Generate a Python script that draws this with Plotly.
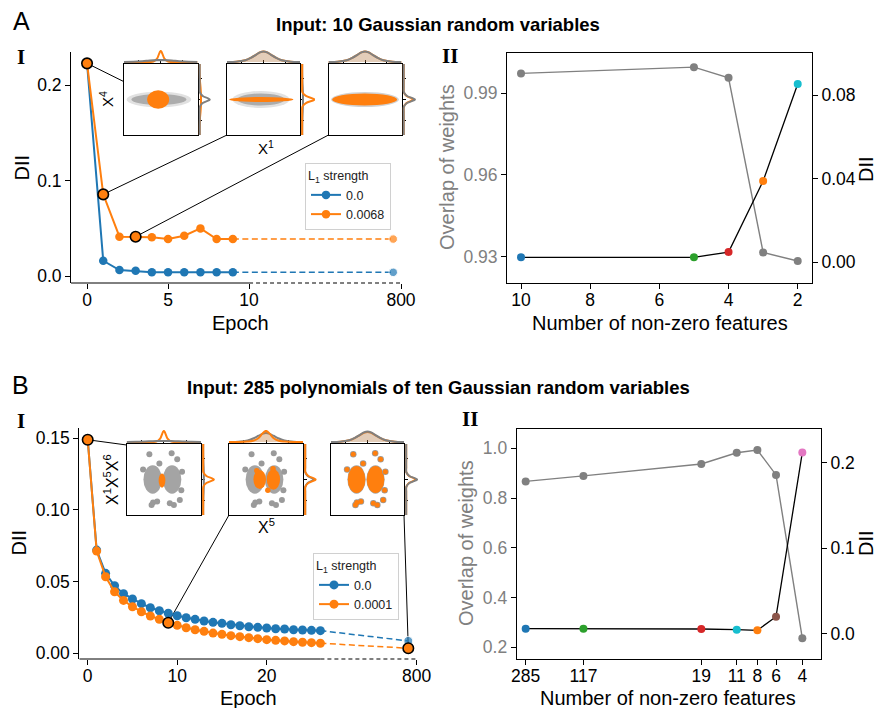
import plotly.graph_objects as go

W, H = 876, 708
FONT = "Liberation Sans"
SERIF = "Liberation Serif"
BLUE, ORANGE, GRAY = "#1f77b4", "#ff7f0e", "#808080"
GREEN, RED, CYAN, BROWN, PINK = "#2ca02c", "#d62728", "#17becf", "#8c564b", "#e377c2"

# ---------------- data ----------------
# Panel A-I : DII vs epoch (10 Gaussian variables)
a_epochs = [0, 1, 2, 3, 4, 5, 6, 7, 8, 9]
a_dii_l0 = [0.2227, 0.0160, 0.0063, 0.0055, 0.0039, 0.0039, 0.0039, 0.0039, 0.0039, 0.0039]
a_dii_l1 = [0.2227, 0.0855, 0.0412, 0.0412, 0.0405, 0.0387, 0.0422, 0.0499, 0.0387, 0.0387]
a_final_l0 = 0.0039
a_final_l1 = 0.0387
a_highlight = [0, 1, 3]          # epochs shown in insets
a_strengths = ["0.0", "0.0068"]

# Panel A-II
a2_features = [10, 5, 4, 3, 2]
a2_overlap = [0.9973, 0.9996, 0.9957, 0.9315, 0.9284]
a2_dii = [0.0024, 0.0024, 0.0049, 0.0389, 0.0853]
a2_colors = [BLUE, GREEN, RED, ORANGE, CYAN]

# Panel B-I : DII vs epoch (285 polynomials)
b_epochs = list(range(27))
b_dii_l0 = [0.1494, 0.0720, 0.0558, 0.0471, 0.0416, 0.0379, 0.0346, 0.0318, 0.0297, 0.0279,
            0.0262, 0.0248, 0.0237, 0.0225, 0.0216, 0.0209, 0.0199, 0.0192, 0.0185, 0.0181,
            0.0176, 0.0171, 0.0169, 0.0164, 0.0162, 0.0160, 0.0158]
b_dii_l1 = [0.1490, 0.0713, 0.0534, 0.0429, 0.0369, 0.0325, 0.0290, 0.0260, 0.0237, 0.0213,
            0.0195, 0.0178, 0.0164, 0.0153, 0.0141, 0.0132, 0.0123, 0.0116, 0.0109, 0.0102,
            0.0095, 0.0090, 0.0086, 0.0081, 0.0077, 0.0074, 0.0070]
b_final_l0 = 0.0086
b_final_l1 = 0.0035
b_highlight = [0, 9]             # plus final epoch
b_strengths = ["0.0", "0.0001"]

# Panel B-II
b2_features = [285, 117, 19, 11, 8, 6, 4]
b2_overlap = [0.867, 0.889, 0.937, 0.982, 0.993, 0.893, 0.236]
b2_dii = [0.0062, 0.0062, 0.0058, 0.0050, 0.0043, 0.0202, 0.212]
b2_colors = [BLUE, GREEN, RED, CYAN, ORANGE, BROWN, PINK]

# inset marginal densities (relative heights on a normalised grid)
mg_grid = [-1, -0.75, -0.5, -0.35, -0.2, -0.1, 0, 0.1, 0.2, 0.35, 0.5, 0.75, 1]
kde_broad_low = [0, 0.02, 0.07, 0.11, 0.15, 0.17, 0.18, 0.17, 0.15, 0.11, 0.07, 0.02, 0]
kde_spike = [0, 0, 0, 0, 0.02, 0.3, 1.0, 0.3, 0.02, 0, 0, 0, 0]
kde_gauss = [0, 0.02, 0.15, 0.36, 0.66, 0.86, 0.95, 0.86, 0.66, 0.36, 0.15, 0.02, 0]
kde_gauss_narrow = [0, 0, 0.03, 0.1, 0.35, 0.75, 1.0, 0.75, 0.35, 0.1, 0.03, 0, 0]
kde_flat = [0, 0, 0.03, 0.07, 0.1, 0.11, 0.11, 0.11, 0.1, 0.07, 0.03, 0, 0]

# outlier points of the polynomial scatter (normalised inset coords)
b_out_x = [-0.39, 0.21, 0.36, -0.33, -0.29, -0.18, 0.16, 0.27, 0.43, -0.56, 0.49, 0.47, -0.12]
b_out_y = [0.71, 0.74, 0.57, -0.72, -0.65, -0.62, -0.67, -0.72, -0.58, 0.28, 0.22, -0.3, 0.45]
b2_orange_x = [0.19, -0.25, 0.05]
b2_orange_y = [0.3, 0.25, -0.3]

# ---------------- layout geometry (pixels) ----------------
A1_X, A1_Y = (71, 401), (52, 283)
A1_XR, A1_YR = [-0.99, 19.38], [-0.0073, 0.2346]
A_POS800 = 18.9
A2_X, A2_Y = (507, 812), (53, 283)
B1_X, B1_Y = (79.3, 416.7), (428, 659)
B1_XR, B1_YR = [-0.94, 36.76], [-0.004, 0.1572]
B_POS800 = 35.82
B2_X, B2_Y = (516.7, 821), (429, 659)


def xd(a, b):
    return [a / W, b / W]


def yd(top, bot):
    return [1 - bot / H, 1 - top / H]


def to_px(xv, yv, xdom, xr, ydom, yr):
    X = xdom[0] + (xv - xr[0]) / (xr[1] - xr[0]) * (xdom[1] - xdom[0])
    Y = ydom[1] - (yv - yr[0]) / (yr[1] - yr[0]) * (ydom[1] - ydom[0])
    return X, Y


TICKFONT = dict(family=FONT, size=17.5, color="black")
AX = dict(showgrid=False, zeroline=False, ticks="outside", ticklen=5, tickwidth=1,
          tickcolor="black", linecolor="black", linewidth=1, tickfont=TICKFONT,
          automargin=False)
XAX = dict(AX, ticklabelstandoff=-4)

fig = go.Figure()
lay = {}
shapes = []
annots = []

# ---------------- A-I ----------------
lay["xaxis"] = dict(XAX, domain=xd(*A1_X), range=A1_XR, anchor="y", showline=False,
                    tickvals=[0, 5, 10, A1_XR[1]], ticktext=["0", "5", "10", "800"])
lay["yaxis"] = dict(AX, domain=yd(*A1_Y), range=A1_YR, anchor="x", showline=True,
                    tickvals=[0, 0.1, 0.2], ticktext=["0.0", "0.1", "0.2"])
shapes.append(dict(type="line", xref="x", yref="y domain", x0=A1_XR[0], x1=10, y0=0, y1=0,
                   line=dict(color="black", width=1)))
shapes.append(dict(type="line", xref="x", yref="y domain", x0=10, x1=A1_XR[1], y0=0, y1=0,
                   line=dict(color="black", width=1.2, dash="4px,3px")))

for vals, fin, col, name in [(a_dii_l0, a_final_l0, BLUE, a_strengths[0]),
                             (a_dii_l1, a_final_l1, ORANGE, a_strengths[1])]:
    fig.add_trace(go.Scatter(x=[a_epochs[-1], A_POS800], y=[vals[-1], fin], mode="lines+markers",
                             line=dict(color=col, width=1.5, dash="6px,3.5px"),
                             marker=dict(size=[0, 8.5], color=col), showlegend=False,
                             xaxis="x", yaxis="y", hoverinfo="skip"))
    fig.add_trace(go.Scatter(x=a_epochs, y=vals, mode="lines+markers", name=name,
                             line=dict(color=col, width=2), marker=dict(size=8.5, color=col),
                             legend="legend", xaxis="x", yaxis="y"))
fig.add_trace(go.Scatter(x=a_highlight, y=[a_dii_l1[e] for e in a_highlight], mode="markers",
                         marker=dict(size=10.5, color=ORANGE, line=dict(color="black", width=1.6)),
                         showlegend=False, xaxis="x", yaxis="y"))

# ---------------- A-II ----------------
lay["xaxis2"] = dict(XAX, domain=xd(*A2_X), range=[10.405, 1.587], anchor="y2", showline=True,
                     mirror=True, tickvals=[10, 8, 6, 4, 2])
lay["yaxis2"] = dict(AX, domain=yd(*A2_Y), range=[0.9203, 1.0048], anchor="x2", showline=True,
                     mirror=True, tickvals=[0.93, 0.96, 0.99], ticktext=["0.93", "0.96", "0.99"],
                     tickfont=dict(TICKFONT, color=GRAY))
lay["yaxis3"] = dict(AX, range=[-0.0099, 0.1001], anchor="x2", overlaying="y2", side="right",
                     showline=True, tickvals=[0, 0.04, 0.08], ticktext=["0.00", "0.04", "0.08"])
fig.add_trace(go.Scatter(x=a2_features, y=a2_overlap, mode="lines+markers",
                         line=dict(color=GRAY, width=1.4), marker=dict(size=8, color=GRAY),
                         showlegend=False, xaxis="x2", yaxis="y2"))
fig.add_trace(go.Scatter(x=a2_features, y=a2_dii, mode="lines+markers",
                         line=dict(color="black", width=1.3), marker=dict(size=8, color=a2_colors),
                         showlegend=False, xaxis="x2", yaxis="y3"))

# ---------------- B-I ----------------
lay["xaxis3"] = dict(XAX, domain=xd(*B1_X), range=B1_XR, anchor="y4", showline=False,
                     tickvals=[0, 10, 20, B1_XR[1]], ticktext=["0", "10", "20", "800"])
lay["yaxis4"] = dict(AX, domain=yd(*B1_Y), range=B1_YR, anchor="x3", showline=True,
                     tickvals=[0, 0.05, 0.10, 0.15], ticktext=["0.00", "0.05", "0.10", "0.15"])
shapes.append(dict(type="line", xref="x3", yref="y4 domain", x0=B1_XR[0], x1=26, y0=0, y1=0,
                   line=dict(color="black", width=1)))
shapes.append(dict(type="line", xref="x3", yref="y4 domain", x0=26, x1=B1_XR[1], y0=0, y1=0,
                   line=dict(color="black", width=1.2, dash="4px,3px")))
for vals, fin, col, name in [(b_dii_l0, b_final_l0, BLUE, b_strengths[0]),
                             (b_dii_l1, b_final_l1, ORANGE, b_strengths[1])]:
    fig.add_trace(go.Scatter(x=[b_epochs[-1], B_POS800], y=[vals[-1], fin], mode="lines+markers",
                             line=dict(color=col, width=1.5, dash="6px,3.5px"),
                             marker=dict(size=[0, 9], color=col), showlegend=False,
                             xaxis="x3", yaxis="y4", hoverinfo="skip"))
    fig.add_trace(go.Scatter(x=b_epochs, y=vals, mode="lines+markers", name=name,
                             line=dict(color=col, width=2), marker=dict(size=9, color=col),
                             legend="legend2", xaxis="x3", yaxis="y4"))
fig.add_trace(go.Scatter(x=b_highlight + [B_POS800],
                         y=[b_dii_l1[e] for e in b_highlight] + [b_final_l1], mode="markers",
                         marker=dict(size=10.5, color=ORANGE, line=dict(color="black", width=1.6)),
                         showlegend=False, xaxis="x3", yaxis="y4"))

# ---------------- B-II ----------------
lay["xaxis4"] = dict(XAX, domain=xd(*B2_X), type="log", range=[2.515, 0.477], anchor="y5",
                     showline=True, mirror=True, tickvals=b2_features,
                     ticktext=[str(v) for v in b2_features])
lay["yaxis5"] = dict(AX, domain=yd(*B2_Y), range=[0.153, 1.0776], anchor="x4", showline=True,
                     mirror=True, tickvals=[0.2, 0.4, 0.6, 0.8, 1.0],
                     ticktext=["0.2", "0.4", "0.6", "0.8", "1.0"], tickfont=dict(TICKFONT, color=GRAY))
lay["yaxis6"] = dict(AX, range=[-0.0292, 0.2393], anchor="x4", overlaying="y5", side="right",
                     showline=True, tickvals=[0, 0.1, 0.2], ticktext=["0.0", "0.1", "0.2"])
fig.add_trace(go.Scatter(x=b2_features, y=b2_overlap, mode="lines+markers",
                         line=dict(color=GRAY, width=1.4), marker=dict(size=8, color=GRAY),
                         showlegend=False, xaxis="x4", yaxis="y5"))
fig.add_trace(go.Scatter(x=b2_features, y=b2_dii, mode="lines+markers",
                         line=dict(color="black", width=1.3), marker=dict(size=8, color=b2_colors),
                         showlegend=False, xaxis="x4", yaxis="y6"))

# ---------------- insets ----------------
counter = {"x": 5, "y": 7}
GFILL = "rgba(128,128,128,0.22)"
OFILL = "rgba(255,127,14,0.22)"
HID = dict(visible=False, automargin=False)


def add_inset(box, top_curves, right_curves, ellipses, dots, mtop=13, mright=14):
    x0, x1, y0, y1 = box
    nx, ny = counter["x"], counter["y"]
    counter["x"] += 3
    counter["y"] += 3
    inset_ax = dict(range=[-1, 1], showline=True, mirror=True, linecolor="black", linewidth=1,
                    ticks="outside", ticklen=3, tickcolor="black", tickvals=[-0.6, 0, 0.6],
                    showticklabels=False, showgrid=False, zeroline=False, automargin=False)
    lay[f"xaxis{nx}"] = dict(inset_ax, domain=xd(x0, x1), anchor=f"y{ny}", side="top")
    lay[f"yaxis{ny}"] = dict(inset_ax, domain=yd(y0, y1), anchor=f"x{nx}", side="right")
    lay[f"xaxis{nx+1}"] = dict(HID, domain=xd(x0, x1), range=[-1, 1], anchor=f"y{ny+1}")
    lay[f"yaxis{ny+1}"] = dict(HID, domain=yd(y0 - 1 - mtop, y0 - 1), range=[-0.1, 1.08],
                               anchor=f"x{nx+1}")
    lay[f"xaxis{nx+2}"] = dict(HID, domain=xd(x1 + 1, x1 + 1 + mright), range=[-0.1, 1.08],
                               anchor=f"y{ny+2}")
    lay[f"yaxis{ny+2}"] = dict(HID, domain=yd(y0, y1), range=[-1, 1], anchor=f"x{nx+2}")
    for (cx, cy, hw, hh, col, op) in ellipses:
        shapes.append(dict(type="circle", xref=f"x{nx}", yref=f"y{ny}", x0=cx - hw, x1=cx + hw,
                           y0=cy - hh, y1=cy + hh, fillcolor=col, opacity=op,
                           line=dict(width=0), layer="below"))
    for (xs, ys, col, sz) in dots:
        fig.add_trace(go.Scatter(x=xs, y=ys, mode="markers", marker=dict(size=sz, color=col),
                                 showlegend=False, hoverinfo="skip",
                                 xaxis=f"x{nx}", yaxis=f"y{ny}"))
    for (vals, scale, col, fill) in top_curves:
        fig.add_trace(go.Scatter(x=mg_grid, y=[v * scale for v in vals], mode="lines",
                                 line=dict(color=col, width=2, shape="spline"),
                                 fill="tozeroy" if fill else None, fillcolor=fill,
                                 showlegend=False, hoverinfo="skip",
                                 xaxis=f"x{nx+1}", yaxis=f"y{ny+1}"))
    for (vals, scale, col, fill) in right_curves:
        fig.add_trace(go.Scatter(y=mg_grid, x=[v * scale for v in vals], mode="lines",
                                 line=dict(color=col, width=2, shape="spline"),
                                 fill="tozerox" if fill else None, fillcolor=fill,
                                 showlegend=False, hoverinfo="skip",
                                 xaxis=f"x{nx+2}", yaxis=f"y{ny+2}"))


LGRAY = "#9a9a9a"
# A insets
add_inset((124, 197.5, 64, 135),
          [(kde_spike, 1, ORANGE, None), (kde_broad_low, 1, GRAY, GFILL)],
          [(kde_flat, 1, ORANGE, OFILL), (kde_spike, 0.85, GRAY, None)],
          [(-0.05, 0, 0.88, 0.22, LGRAY, 0.3), (-0.05, 0, 0.75, 0.15, LGRAY, 0.75),
           (-0.07, 0, 0.3, 0.26, ORANGE, 1)], [])
add_inset((227, 300, 64, 135),
          [(kde_gauss, 1, ORANGE, OFILL), (kde_gauss, 1, GRAY, GFILL)],
          [(kde_flat, 0.6, GRAY, None), (kde_spike, 1.05, ORANGE, None)],
          [(-0.07, 0, 0.78, 0.24, LGRAY, 0.3), (-0.07, 0, 0.65, 0.17, LGRAY, 0.75),
           (-0.06, 0, 0.88, 0.07, ORANGE, 1)], [])
add_inset((328.5, 401.5, 64, 135),
          [(kde_gauss, 1, ORANGE, OFILL), (kde_gauss, 1, GRAY, GFILL)],
          [(kde_spike, 0.8, ORANGE, None), (kde_spike, 0.95, GRAY, None)],
          [(0, 0, 0.93, 0.21, LGRAY, 0.45), (-0.01, 0, 0.89, 0.17, ORANGE, 1)], [])

# B insets
gray_lobes = [(-0.3, 0, 0.25, 0.4, LGRAY, 0.9), (0.22, 0, 0.25, 0.4, LGRAY, 0.9)]
add_inset((126.7, 201, 444, 515),
          [(kde_spike, 1, ORANGE, None), (kde_broad_low, 0.5, GRAY, GFILL)],
          [(kde_flat, 0.5, GRAY, None), (kde_spike, 0.9, ORANGE, None)],
          gray_lobes + [(-0.05, -0.03, 0.09, 0.2, ORANGE, 1)],
          [(b_out_x, b_out_y, LGRAY, 6)])
add_inset((229, 303, 444, 515),
          [(kde_gauss, 0.85, GRAY, GFILL), (kde_gauss_narrow, 1, ORANGE, OFILL)],
          [(kde_spike, 0.7, GRAY, None), (kde_spike, 0.88, ORANGE, None)],
          gray_lobes + [(-0.17, 0, 0.17, 0.27, ORANGE, 1), (0.2, 0, 0.18, 0.29, ORANGE, 1)],
          [(b_out_x, b_out_y, LGRAY, 6), (b2_orange_x, b2_orange_y, ORANGE, 5.5)])
add_inset((331, 404, 444, 515),
          [(kde_gauss, 0.95, ORANGE, OFILL), (kde_gauss, 1, GRAY, GFILL)],
          [(kde_spike, 0.8, ORANGE, None), (kde_spike, 0.92, GRAY, None)],
          gray_lobes + [(-0.3, 0, 0.24, 0.38, ORANGE, 1), (0.22, 0, 0.24, 0.38, ORANGE, 1)],
          [(b_out_x, b_out_y, LGRAY, 6.5), (b_out_x, b_out_y, ORANGE, 5)])

# connecting lines from highlighted points to insets
a_targets = [(124, 81.7), (227, 135), (328.5, 135)]
for e, (tx, ty) in zip(a_highlight, a_targets):
    px_, py_ = to_px(e, a_dii_l1[e], A1_X, A1_XR, A1_Y, A1_YR)
    shapes.append(dict(type="line", xref="paper", yref="paper", x0=px_ / W, y0=1 - py_ / H,
                       x1=tx / W, y1=1 - ty / H, line=dict(color="black", width=1), layer="below"))
b_pts = [(0, b_dii_l1[0]), (9, b_dii_l1[9]), (B_POS800, b_final_l1)]
b_targets = [(126.7, 445), (229, 515), (404, 515)]
for (e, v), (tx, ty) in zip(b_pts, b_targets):
    px_, py_ = to_px(e, v, B1_X, B1_XR, B1_Y, B1_YR)
    shapes.append(dict(type="line", xref="paper", yref="paper", x0=px_ / W, y0=1 - py_ / H,
                       x1=tx / W, y1=1 - ty / H, line=dict(color="black", width=1), layer="below"))


# ---------------- text ----------------
def txt(text, x, y, size, color="black", family=FONT, angle=0, xanchor="center"):
    annots.append(dict(text=text, x=x / W, y=1 - y / H, xref="paper", yref="paper",
                       showarrow=False, xanchor=xanchor, yanchor="middle", textangle=angle,
                       font=dict(family=family, size=size, color=color)))


txt("A", 21.5, 21, 25)
txt("B", 20.5, 385, 25)
txt("<b>Input: 10 Gaussian random variables</b>", 438, 24, 18.5)
txt("<b>Input: 285 polynomials of ten Gaussian random variables</b>", 438, 387.5, 18.5)
txt("<b>I</b>", 20.5, 57, 21, family=SERIF)
txt("<b>II</b>", 450.5, 56, 21, family=SERIF)
txt("<b>I</b>", 21, 421, 21, family=SERIF)
txt("<b>II</b>", 469.5, 419, 21, family=SERIF)
txt("DII", 21.5, 168, 20, angle=-90)
txt("Epoch", 240.5, 323, 20)
txt("DII", 18.5, 543, 20, angle=-90)
txt("Epoch", 248, 698, 20)
txt("Overlap of weights", 446.5, 167.5, 20, color=GRAY, angle=-90)
txt("DII", 866, 169, 20, angle=-90)
txt("Number of non-zero features", 659.7, 323, 20)
txt("Overlap of weights", 466, 543, 20, color=GRAY, angle=-90)
txt("DII", 866, 543, 20, angle=-90)
txt("Number of non-zero features", 668, 698, 20)
txt("X<sup>4</sup>", 107, 99, 15, angle=-90)
txt("X<sup>1</sup>", 266, 148, 15)
txt("X<sup>1</sup>X<sup>5</sup>X<sup>6</sup>", 111, 480, 16, angle=-90)
txt("X<sup>5</sup>", 266, 526, 16)

LEG = dict(font=dict(family=FONT, size=12.5, color="#222222"), bgcolor="rgba(255,255,255,0.85)",
           bordercolor="#d0d0d0", borderwidth=1, xanchor="left", yanchor="top",
           tracegroupgap=0, itemwidth=30,
           title=dict(text="L<sub>1</sub> strength", font=dict(family=FONT, size=12.5, color="#222222")))

fig.update_layout(
    width=W, height=H, autosize=False,
    margin=dict(l=0, r=0, t=0, b=0, pad=0),
    paper_bgcolor="white", plot_bgcolor="rgba(0,0,0,0)",
    font=dict(family=FONT, color="black"),
    legend=dict(LEG, x=305 / W, y=1 - 163 / H),
    legend2=dict(LEG, x=313 / W, y=1 - 553 / H),
    shapes=shapes, annotations=annots,
    **lay,
)

fig.write_html("out.html", config={"displayModeBar": False},
               post_script="document.body.style.margin='0';document.body.style.padding='0';"
                           "document.body.style.overflow='hidden';")
